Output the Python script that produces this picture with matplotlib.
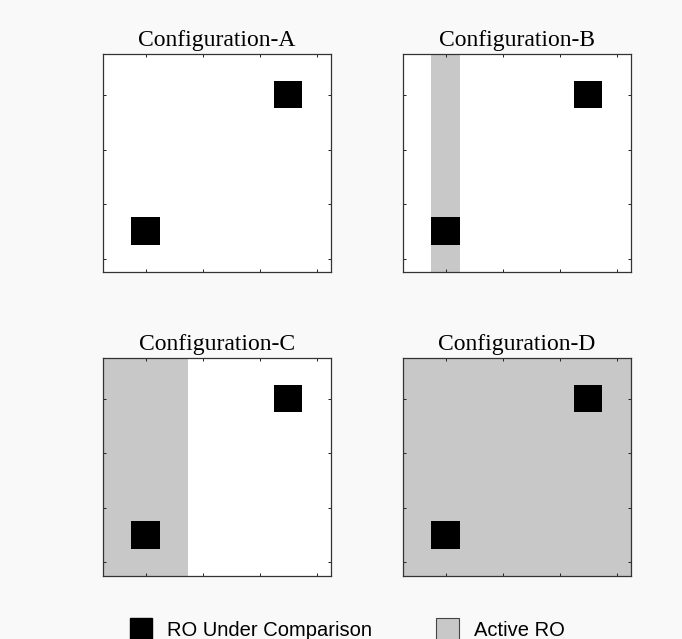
import numpy as np
import matplotlib
matplotlib.use("Agg")
import matplotlib.pyplot as plt
from matplotlib.colors import ListedColormap
from matplotlib.patches import Patch

# 8x8 grid of ring oscillators (1-indexed like the original)
grid_size = 8
titles = ["Configuration-A", "Configuration-B", "Configuration-C", "Configuration-D"]
# ROs under comparison (row, col)
ro_rows = [2, 7]
ro_cols = [7, 2]
# active RO columns in each configuration
active_cols = [[], [2], [1, 2, 3], [1, 2, 3, 4, 5, 6, 7, 8]]
tick_vals = [2, 4, 6, 8]
legend_labels = ["RO Under Comparison", "Active RO"]

WHITE, GRAY, BLACK = "#ffffff", "#c8c8c8", "#000000"
cmap = ListedColormap([WHITE, GRAY, BLACK])

fig = plt.figure(figsize=(6.82, 6.39), dpi=100, facecolor="#f9f9f9")

# axes positions in figure fraction
lefts = [0.151, 0.591, 0.151, 0.591]
bottoms = [0.574, 0.574, 0.099, 0.099]
w, h = 0.334, 0.341

for i, title in enumerate(titles):
    grid = np.zeros((grid_size, grid_size))
    for c in active_cols[i]:
        grid[:, c - 1] = 1
    for r, c in zip(ro_rows, ro_cols):
        grid[r - 1, c - 1] = 2

    ax = fig.add_axes([lefts[i], bottoms[i], w, h])
    ax.imshow(grid, cmap=cmap, vmin=0, vmax=2, aspect="auto",
              extent=[0.5, grid_size + 0.5, grid_size + 0.5, 0.5],
              interpolation="nearest")
    ax.set_xticks(tick_vals)
    ax.set_yticks(tick_vals)
    ax.set_xticklabels([])
    ax.set_yticklabels([])
    ax.tick_params(direction="in", length=2.5, width=0.7, color="#222222",
                   top=True, right=True)
    for s in ax.spines.values():
        s.set_color("#333333")
        s.set_linewidth(0.9)
    ax.set_title(title, fontsize=17, family="Liberation Serif", pad=6)

handles = [Patch(facecolor=BLACK, edgecolor=BLACK),
           Patch(facecolor=GRAY, edgecolor="#444444", linewidth=0.8)]
fig.legend(handles, legend_labels, loc="center", bbox_to_anchor=(0.509, 0.016),
           ncol=2, frameon=False, prop={"family": "Liberation Sans", "size": 14.5},
           handlelength=1.1, handleheight=1.3, handletextpad=0.75,
           columnspacing=3.2)

fig.savefig("out.png", dpi=100, facecolor=fig.get_facecolor())
